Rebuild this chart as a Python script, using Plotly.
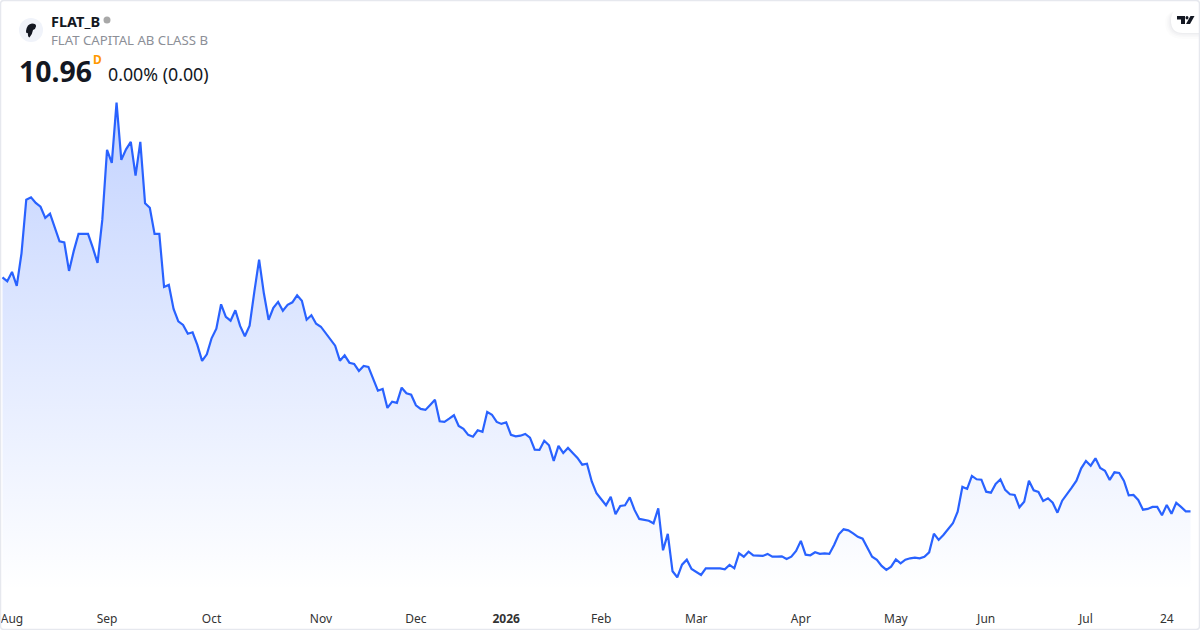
import plotly.graph_objects as go

# closes, one per trading day
closes = [
    22.66, 22.46, 22.93, 22.23, 23.86, 26.54, 26.66, 26.38, 26.19, 25.63,
    25.84, 25.19, 24.46, 24.41, 22.98, 23.98, 24.83, 24.83, 24.83, 24.14,
    23.38, 25.53, 29.03, 28.38, 31.39, 28.53, 29.06, 29.43, 27.74, 29.43,
    26.36, 26.14, 24.83, 24.83, 22.18, 22.28, 21.08, 20.46, 20.28, 19.84,
    19.91, 19.28, 18.48, 18.81, 19.61, 20.09, 21.31, 20.68, 20.49, 21.01,
    20.23, 19.71, 20.24, 21.94, 23.54, 21.86, 20.53, 21.13, 21.43, 20.99,
    21.28, 21.41, 21.76, 21.49, 20.54, 20.76, 20.34, 20.19, 19.89, 19.58,
    19.24, 18.49, 18.76, 18.39, 18.33, 17.98, 18.23, 18.18, 17.56, 16.99,
    17.08, 16.13, 16.44, 16.38, 17.14, 16.86, 16.79, 16.26, 16.08, 16.03,
    16.28, 16.54, 15.46, 15.43, 15.59, 15.76, 15.23, 15.08, 14.78, 14.69,
    15.01, 14.93, 15.93, 15.79, 15.43, 15.33, 15.41, 14.78, 14.71, 14.74,
    14.83, 14.64, 14.04, 14.03, 14.49, 14.26, 13.48, 14.23, 13.88, 14.13,
    13.88, 13.63, 13.29, 13.34, 12.45, 11.86, 11.56, 11.26, 11.68, 10.81,
    11.23, 11.26, 11.66, 11.03, 10.58, 10.54, 10.49, 10.36, 11.11, 9.01,
    9.83, 7.96, 7.66, 8.29, 8.54, 8.08, 7.93, 7.78, 8.11, 8.11,
    8.11, 8.11, 8.06, 8.28, 8.11, 8.86, 8.69, 8.94, 8.76, 8.73,
    8.73, 8.83, 8.69, 8.69, 8.71, 8.58, 8.69, 8.98, 9.48, 8.79,
    8.76, 8.91, 8.83, 8.86, 8.83, 9.28, 9.81, 10.06, 10.01, 9.86,
    9.68, 9.59, 9.13, 8.69, 8.53, 8.23, 8.03, 8.19, 8.56, 8.36,
    8.54, 8.61, 8.64, 8.61, 8.69, 8.91, 9.84, 9.53, 9.78, 10.09,
    10.36, 10.94, 12.18, 12.08, 12.73, 12.56, 12.54, 11.94, 11.89, 12.33,
    12.56, 12.03, 11.81, 11.78, 11.16, 11.44, 12.49, 12.01, 11.93, 11.48,
    11.61, 11.39, 10.89, 11.49, 11.79, 12.14, 12.49, 13.11, 13.48, 13.24,
    13.61, 13.13, 12.99, 12.53, 12.91, 12.88, 12.48, 11.76, 11.78, 11.53,
    11.04, 11.08, 11.18, 11.18, 10.76, 11.28, 10.84, 11.38, 11.18, 10.96,
    10.96,
]
bars = list(range(len(closes)))

# time scale is by bar, not by calendar day
tick_bars = [2, 22, 44, 67, 87, 106, 126, 146, 168, 188, 207, 228, 245]
tick_labels = ["Aug", "Sep", "Oct", "Nov", "Dec", "<b>2026</b>", "Feb", "Mar",
               "Apr", "May", "Jun", "Jul", "24"]

W, H = 1200, 630
MARGIN_B = 24
FONT = "Noto Sans"


def px(x):
    return x / W


def py(y):
    # paper coords cover the plot area only, so use its height
    return 1 - y / (H - MARGIN_B)


def pixel_path(points):
    # "M 10 20 L 30 40" in screen pixels -> paper coordinates
    out = []
    for tok in points:
        if isinstance(tok, str):
            out.append(tok)
        else:
            out.append(f"{px(tok[0]):.5f},{py(tok[1]):.5f}")
    return " ".join(out)


fig = go.Figure()
fig.add_trace(go.Scatter(
    x=bars,
    y=closes,
    mode="lines",
    line=dict(color="#2962ff", width=2.2),
    fill="tozeroy",
    fillgradient=dict(
        type="vertical",
        start=31.4,
        stop=7.0,
        colorscale=[[0, "rgba(41,98,255,0.28)"], [1, "rgba(41,98,255,0)"]],
    ),
    hoverinfo="skip",
))

shapes = []
# logo circle + glyph
shapes.append(dict(type="circle", xref="paper", yref="paper",
                   x0=px(19), x1=px(43), y0=py(42), y1=py(18),
                   fillcolor="#f0f3fa", line_width=0))
shapes.append(dict(type="path", xref="paper", yref="paper", line_width=0, fillcolor="#131722",
                   path=pixel_path(["M", (26, 31), "Q", (27, 24), (32, 23.5), "Q", (36.5, 23.5), (36, 26.5),
                                    "Q", (35.5, 29.5), (33, 30), "Q", (32.5, 34), (29.5, 37.5),
                                    "Q", (27.5, 37), (28, 33), "Q", (26, 34), (26, 31), "Z"])))
# status dot
shapes.append(dict(type="circle", xref="paper", yref="paper",
                   x0=px(103.5), x1=px(110.5), y0=py(23.5), y1=py(16.5),
                   fillcolor="#a8a8a8", line_width=0))
# soft shadow under the TV pill, heavier towards the bottom
for grow, alpha in [(6, 0.012), (4, 0.016), (2.5, 0.02), (1, 0.025)]:
    shapes.append(dict(type="path", xref="paper", yref="paper", line_width=0,
                       fillcolor=f"rgba(19,23,34,{alpha})",
                       path=pixel_path(["M", (1200, 10), "L", (1183, 10),
                                        "Q", (1171 - grow, 10), (1171 - grow, 22),
                                        "Q", (1171 - grow, 33 + grow), (1183, 33 + grow),
                                        "L", (1200, 33 + grow), "Z"])))
shapes.append(dict(type="path", xref="paper", yref="paper", line_width=0, fillcolor="#ffffff",
                   path=pixel_path(["M", (1200, 8), "L", (1183, 8), "Q", (1171, 8), (1171, 20.5),
                                    "Q", (1171, 33), (1183, 33), "L", (1200, 33), "Z"])))
# TV glyph
shapes.append(dict(type="path", xref="paper", yref="paper", line_width=0, fillcolor="#131722",
                   path=pixel_path(["M", (1177, 16), "L", (1185, 16), "L", (1185, 24), "L", (1181, 24),
                                    "L", (1181, 19.5), "L", (1177, 19.5), "Z"])))
shapes.append(dict(type="circle", xref="paper", yref="paper",
                   x0=px(1185.5), x1=px(1188.5), y0=py(19.5), y1=py(16),
                   fillcolor="#131722", line_width=0))
shapes.append(dict(type="path", xref="paper", yref="paper", line_width=0, fillcolor="#131722",
                   path=pixel_path(["M", (1190.5, 16), "L", (1194.5, 16), "L", (1190, 24), "L", (1186, 24), "Z"])))
# card border
r = 4
shapes.append(dict(type="path", xref="paper", yref="paper", fillcolor="rgba(0,0,0,0)",
                   line=dict(color="#e6e8ee", width=1.5),
                   path=pixel_path(["M", (r, 0.5), "L", (W - r, 0.5), "Q", (W - 0.5, 0.5), (W - 0.5, r),
                                    "L", (W - 0.5, H - r), "Q", (W - 0.5, H - 0.5), (W - r, H - 0.5),
                                    "L", (r, H - 0.5), "Q", (0.5, H - 0.5), (0.5, H - r),
                                    "L", (0.5, r), "Q", (0.5, 0.5), (r, 0.5), "Z"])))


def label(text, x, y, size, color, bold=False):
    return dict(text=f"<b>{text}</b>" if bold else text,
                x=px(x), y=py(y), xref="paper", yref="paper",
                xanchor="left", yanchor="middle", showarrow=False,
                font=dict(family=FONT, size=size, color=color))


annotations = [
    label("FLAT_B", 49, 21.2, 14.5, "#131722", True),
    label("FLAT CAPITAL AB CLASS B", 49, 39.9, 13.2, "#8c8f97"),
    label("10.96", 16.5, 70.7, 28.4, "#131722", True),
    label("D", 91, 60, 12, "#ff9800", True),
    label("0.00% (0.00)", 106, 73.8, 17.8, "#131722"),
]

fig.update_layout(
    width=W,
    height=H,
    margin=dict(l=0, r=0, t=0, b=MARGIN_B),
    paper_bgcolor="#ffffff",
    plot_bgcolor="#ffffff",
    showlegend=False,
    shapes=shapes,
    annotations=annotations,
    xaxis=dict(
        range=[-0.526, 252.0],
        showgrid=False,
        zeroline=False,
        showline=False,
        tickmode="array",
        tickvals=tick_bars,
        ticktext=tick_labels,
        ticks="",
        ticklabelstandoff=4,
        tickfont=dict(family=FONT, size=12, color="#333333"),
    ),
    yaxis=dict(range=[6.225, 36.525], visible=False),
)

fig.write_html("out.html", config={"displayModeBar": False},
               post_script="document.body.style.margin='0';document.body.style.overflow='hidden';")
